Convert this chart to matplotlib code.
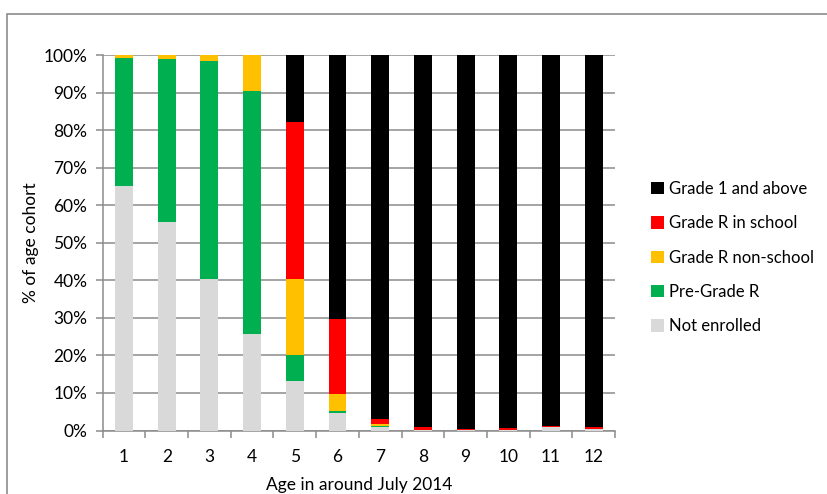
import numpy as np
import matplotlib
matplotlib.use("Agg")
import matplotlib.pyplot as plt
from matplotlib.patches import Rectangle, Patch

ages = ["1", "2", "3", "4", "5", "6", "7", "8", "9", "10", "11", "12"]

not_enrolled = [65.2, 55.4, 40.4, 25.7, 13.2, 4.7, 0.8, 0.2, 0.1, 0.1, 0.8, 0.4]
pre_grade_r = [34.1, 43.6, 57.9, 64.8, 6.8, 0.5, 0.5, 0.0, 0.0, 0.0, 0.0, 0.0]
grade_r_nonschool = [0.7, 1.0, 1.7, 9.5, 20.3, 4.5, 0.5, 0.0, 0.0, 0.0, 0.0, 0.0]
grade_r_school = [0.0, 0.0, 0.0, 0.0, 41.8, 20.0, 1.3, 0.7, 0.4, 0.5, 0.4, 0.6]
grade1_above = [0.0, 0.0, 0.0, 0.0, 17.9, 70.3, 96.9, 99.1, 99.5, 99.4, 98.8, 99.0]

series = [
    ("Not enrolled", not_enrolled, "#D9D9D9"),
    ("Pre-Grade R", pre_grade_r, "#00B050"),
    ("Grade R non-school", grade_r_nonschool, "#FFC000"),
    ("Grade R in school", grade_r_school, "#FF0000"),
    ("Grade 1 and above", grade1_above, "#000000"),
]

plt.rcParams['font.family'] = ['Lato', 'DejaVu Sans']
fs = 12.5

fig = plt.figure(figsize=(8.27, 4.94), dpi=100)
W, H = 827, 494
ax = fig.add_axes([102.7 / W, 1 - 430.5 / H, (615 - 102.7) / W, (430.5 - 55) / H])

x = np.arange(len(ages))
bottom = np.zeros(len(ages))
for name, vals, col in series:
    vals = np.array(vals)
    ax.bar(x, vals, 0.42, bottom=bottom, color=col, zorder=3, linewidth=0)
    bottom += vals

ax.set_xlim(-0.5, len(ages) - 0.5)
ax.set_ylim(0, 100)
ax.set_yticks(np.arange(0, 101, 10))
ax.set_yticklabels([f"{v}%" for v in range(0, 101, 10)], fontsize=fs)
ax.yaxis.grid(True, color="#8C8C8C", linewidth=1.1, zorder=0)
ax.set_axisbelow(True)

ax.set_xticks(x)
ax.set_xticklabels(ages, fontsize=fs)
ax.set_xticks(np.arange(-0.5, len(ages), 1), minor=True)
ax.tick_params(axis="x", which="major", length=0, pad=13)
ax.tick_params(axis="x", which="minor", length=5, color="#8C8C8C", width=1.1)
ax.tick_params(axis="y", length=5, color="#8C8C8C", width=1.1, pad=6)

for s in ["top", "right"]:
    ax.spines[s].set_visible(False)
for s in ["left", "bottom"]:
    ax.spines[s].set_color("#8C8C8C")
    ax.spines[s].set_linewidth(1.1)

ax.set_ylabel("% of age cohort", fontsize=fs, labelpad=3)
ax.set_xlabel("Age in around July 2014", fontsize=fs, labelpad=9)

handles = [Patch(facecolor=col, edgecolor="none", label=name) for name, _, col in series[::-1]]
fig.legend(handles=handles, loc="upper left", bbox_to_anchor=(636 / W, 1 - 166 / H),
           frameon=False, fontsize=12, handlelength=0.75, handleheight=0.75,
           handletextpad=0.35, labelspacing=1.1)

# outer chart frame
fig.patches.append(Rectangle((7 / W, -0.1), 1.1, 1 - 14 / H + 0.1, transform=fig.transFigure,
                             fill=False, edgecolor="#8C8C8C", linewidth=1.2))

fig.savefig("out.png", dpi=100)
